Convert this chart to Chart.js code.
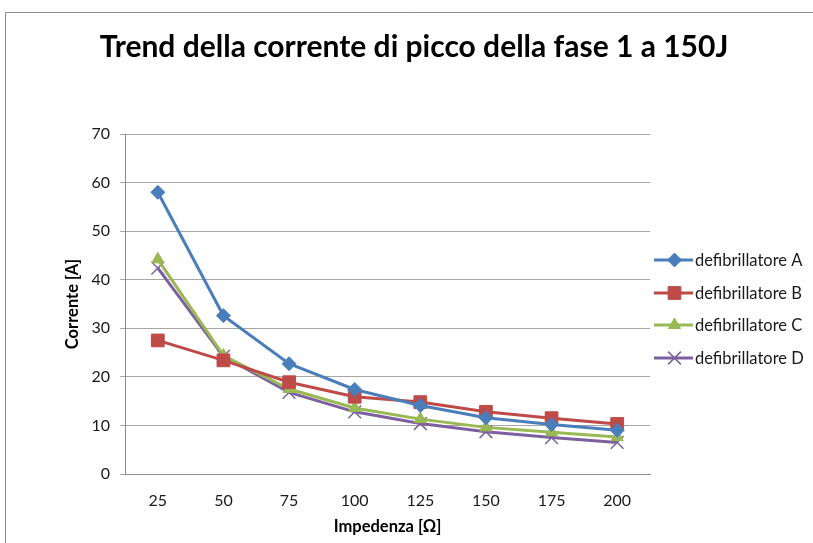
<!DOCTYPE html>
<html>
<head>
<meta charset="utf-8">
<script src="https://cdn.jsdelivr.net/npm/chart.js@4/dist/chart.umd.min.js"></script>
<style>
  html, body { margin: 0; padding: 0; background: #ffffff; }
  #wrap { width: 813px; height: 543px; position: relative; }
</style>
</head>
<body>
<div id="wrap"><canvas id="c" width="813" height="543"></canvas></div>
<script>
// Impedance values (ohm) on the x axis
const impedenze = ['25', '50', '75', '100', '125', '150', '175', '200'];

// Peak current of phase 1 at 150 J, one array per defibrillator (A)
const defibA = [58.0, 32.6, 22.7, 17.4, 14.1, 11.6, 10.2, 9.0];
const defibB = [27.5, 23.4, 18.9, 15.9, 14.8, 12.8, 11.5, 10.3];
const defibC = [44.2, 24.4, 17.5, 13.6, 11.3, 9.6, 8.6, 7.6];
const defibD = [42.4, 24.2, 16.8, 12.8, 10.4, 8.7, 7.5, 6.5];

const seriesNames = ['defibrillatore A', 'defibrillatore B', 'defibrillatore C', 'defibrillatore D'];
const yTicks = [0, 10, 20, 30, 40, 50, 60, 70];

const FONT = 'Lato, "Open Sans", sans-serif';

// Frame lines and title drawn on the canvas
const framePlugin = {
  id: 'frame',
  beforeDraw(chart) {
    const ctx = chart.ctx;
    ctx.save();
    ctx.fillStyle = '#ffffff';
    ctx.fillRect(0, 0, chart.width, chart.height);
    ctx.strokeStyle = '#8c8c8c';
    ctx.lineWidth = 1;
    ctx.beginPath();
    ctx.moveTo(5.5, chart.height);
    ctx.lineTo(5.5, 12.5);
    ctx.lineTo(chart.width, 12.5);
    ctx.stroke();
    ctx.fillStyle = '#000000';
    ctx.font = 'bold 30px ' + FONT;
    ctx.textAlign = 'center';
    ctx.textBaseline = 'alphabetic';
    ctx.fillText('Trend della corrente di picco della fase 1 a 150J', 414, 57);
    ctx.restore();
  }
};

// Legend with line + marker samples on the right
const legendPlugin = {
  id: 'sideLegend',
  afterDraw(chart) {
    const ctx = chart.ctx;
    const ys = [260, 293, 325, 358];
    ctx.save();
    chart.data.datasets.forEach((ds, i) => {
      const y = ys[i];
      ctx.strokeStyle = ds.borderColor;
      ctx.lineWidth = 3;
      ctx.beginPath();
      ctx.moveTo(654, y);
      ctx.lineTo(693, y);
      ctx.stroke();
      ctx.fillStyle = ds.pointBackgroundColor;
      ctx.strokeStyle = ds.pointBorderColor;
      ctx.lineWidth = ds.pointBorderWidth;
      Chart.helpers.drawPoint(ctx, {
        pointStyle: ds.pointStyle,
        radius: ds.pointRadius,
        rotation: 0,
        borderWidth: ds.pointBorderWidth
      }, 674.5, y);
      ctx.fillStyle = '#1a1a1a';
      ctx.font = '16.5px ' + FONT;
      ctx.textAlign = 'left';
      ctx.textBaseline = 'middle';
      ctx.fillText(seriesNames[i], 695, y + 1);
    });
    ctx.restore();
  }
};

function makeSet(label, data, color, style, radius, borderW) {
  return {
    label: label,
    data: data,
    borderColor: color,
    backgroundColor: color,
    borderWidth: 3,
    pointStyle: style,
    pointRadius: radius,
    pointHoverRadius: radius,
    pointBackgroundColor: color,
    pointBorderColor: color,
    pointBorderWidth: borderW,
    tension: 0
  };
}

new Chart(document.getElementById('c'), {
  type: 'line',
  data: {
    labels: impedenze,
    datasets: [
      makeSet(seriesNames[0], defibA, '#4a7ebb', 'rectRot', 7, 1),
      makeSet(seriesNames[1], defibB, '#be4b48', 'rect', 9, 1),
      makeSet(seriesNames[2], defibC, '#98b954', 'triangle', 7, 1),
      makeSet(seriesNames[3], defibD, '#7d60a0', 'crossRot', 9, 1.5)
    ]
  },
  options: {
    responsive: false,
    animation: false,
    devicePixelRatio: 1,
    layout: { padding: { left: 63, right: 163, top: 134, bottom: 0 } },
    plugins: {
      legend: { display: false },
      title: { display: false },
      tooltip: { enabled: false }
    },
    scales: {
      x: {
        offset: true,
        grid: { display: false, drawTicks: false },
        border: { color: '#8c8c8c', width: 1 },
        ticks: {
          color: '#1a1a1a',
          font: { family: FONT, size: 16 },
          padding: 17,
          maxRotation: 0
        },
        title: {
          display: true,
          text: 'Impedenza [Ω]',
          color: '#000000',
          font: { family: FONT, size: 16.5, weight: 'bold' },
          padding: { top: 4, bottom: 6 }
        },
        afterFit(scale) { scale.height = 69; }
      },
      y: {
        min: 0,
        max: 70,
        afterBuildTicks(scale) { scale.ticks = yTicks.map(v => ({ value: v })); },
        grid: { color: '#a6a6a6', lineWidth: 1, tickLength: 5 },
        border: { color: '#8c8c8c', width: 1 },
        ticks: {
          color: '#1a1a1a',
          font: { family: FONT, size: 16 },
          padding: 10
        },
        title: {
          display: true,
          text: 'Corrente [A]',
          color: '#000000',
          font: { family: FONT, size: 16.5, weight: 'bold' },
          padding: { top: 0, bottom: 4 }
        },
        afterFit(scale) { scale.width = 62; }
      }
    }
  },
  plugins: [framePlugin, legendPlugin]
});
</script>
</body>
</html>
